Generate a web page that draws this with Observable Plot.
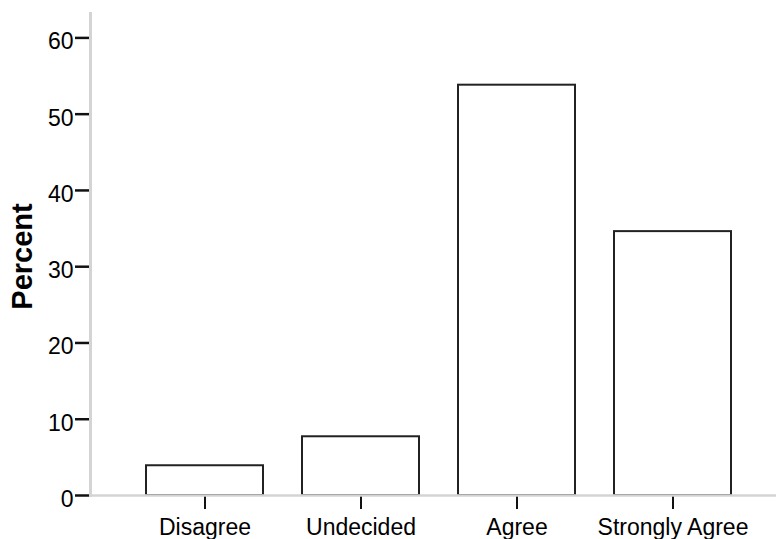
<!DOCTYPE html>
<html>
<head>
<meta charset="utf-8">
<script src="https://cdn.jsdelivr.net/npm/d3@7"></script>
<script src="https://cdn.jsdelivr.net/npm/@observablehq/plot@0.6"></script>
<style>
  html, body { margin: 0; padding: 0; background: #fff; }
  svg { display: block; }
</style>
</head>
<body>
<div id="chart"></div>
<script>
const categories = ["Disagree", "Undecided", "Agree", "Strongly Agree"];
const percents = [3.9, 7.7, 53.8, 34.6];
const yTicks = [0, 10, 20, 30, 40, 50, 60];

const data = categories.map((c, i) => ({category: c, percent: percents[i]}));

const chart = Plot.plot({
  width: 776,
  height: 539,
  marginLeft: 90,
  marginRight: 0,
  marginTop: 13,
  marginBottom: 44,
  style: {fontFamily: "'Liberation Sans', Arial, sans-serif", fontSize: "23px", color: "#000", background: "#fff"},
  x: {domain: categories, paddingInner: 0.25, paddingOuter: 0.3195, align: 0.55, label: null},
  y: {domain: [0, 63.2], label: null},
  marks: [
    Plot.barY(data, {x: "category", y: "percent", fill: "#fff", stroke: "#222", strokeWidth: 2}),
    Plot.axisX({tickSize: 14, tickPadding: 9, strokeWidth: 2, stroke: "#111", label: null, fontSize: 23}),
    Plot.axisY({ticks: yTicks, tickSize: 15, tickFormat: () => "", strokeWidth: 2.5, stroke: "#111", label: null}),
    Plot.axisY({ticks: yTicks, tickSize: 0, tickPadding: 17, label: null, dy: 4, fontSize: 23}),
    Plot.ruleY([0], {stroke: "#d4d4d4", strokeWidth: 2.5}),
    Plot.frame({anchor: "left", stroke: "#d4d4d4", strokeWidth: 3}),
    Plot.text(["Percent"], {frameAnchor: "left", textAnchor: "middle", dx: -68, dy: 2, rotate: -90, text: d => d, fontWeight: "bold", fontSize: 29, fill: "#000"})
  ]
});
document.getElementById("chart").appendChild(chart);
</script>
</body>
</html>
